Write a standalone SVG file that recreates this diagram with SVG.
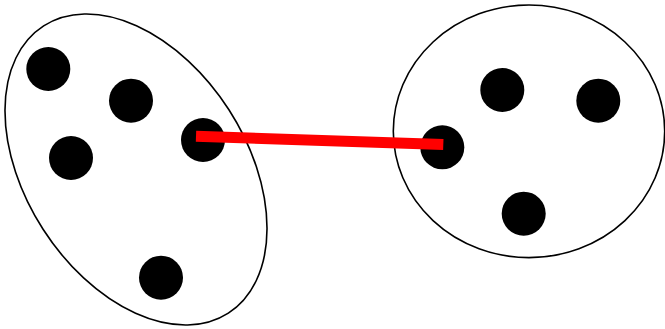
<svg xmlns="http://www.w3.org/2000/svg" width="665" height="329" viewBox="0 0 665 329">
<style>
.set{fill:none;stroke:#000;stroke-width:1.6}
.dot{fill:#000}
.link{stroke:#ff0000;stroke-width:11;stroke-linecap:butt;fill:none}
</style>
<rect width="665" height="329" fill="#fff"/>
<g id="set-left">
<ellipse class="set" cx="136" cy="169.5" rx="170.7" ry="110.5" transform="rotate(57.25 136 169.5)"/>
<circle id="l1" class="dot" cx="48.3" cy="69" r="22"/>
<circle id="l2" class="dot" cx="131" cy="100.7" r="22"/>
<circle id="l3" class="dot" cx="71" cy="158" r="22"/>
<circle id="l4" class="dot" cx="203" cy="140" r="22"/>
<circle id="l5" class="dot" cx="161" cy="277.7" r="22"/>
</g>
<g id="set-right">
<ellipse class="set" cx="529" cy="131.3" rx="135.7" ry="126.3"/>
<circle id="r1" class="dot" cx="502.3" cy="90" r="22"/>
<circle id="r2" class="dot" cx="598.3" cy="100.7" r="22"/>
<circle id="r3" class="dot" cx="442.3" cy="147.3" r="22"/>
<circle id="r4" class="dot" cx="523.7" cy="213.7" r="22"/>
</g>
<g id="connectors">
<line class="link" x1="196" y1="136.3" x2="443.3" y2="144.5"/>
</g>
</svg>
